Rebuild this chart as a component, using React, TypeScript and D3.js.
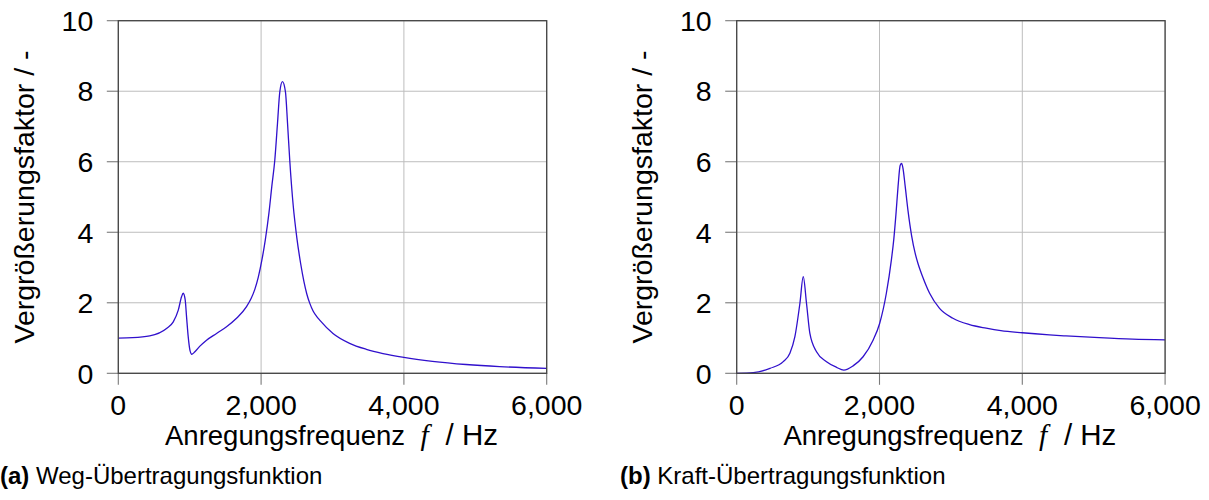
import React from "react";
import * as d3 from "d3";

// ---- data ----
const FREQ_A = [0, 200, 440, 680, 770, 840, 886, 909, 937, 956, 979, 1003, 1030, 1073, 1143, 1236, 1376, 1516, 1656, 1796, 1860, 1912, 1960, 2010, 2060, 2110, 2150, 2192, 2230, 2262, 2299, 2341, 2370, 2401, 2450, 2500, 2555, 2600, 2640, 2681, 2730, 2780, 2821, 3007, 3240, 3474, 3707, 4000, 4400, 4870, 5340, 6000];
const VAL_A = [1.0, 1.01, 1.06, 1.28, 1.46, 1.79, 2.17, 2.27, 2.08, 1.6, 1.04, 0.66, 0.54, 0.61, 0.77, 0.94, 1.13, 1.32, 1.56, 1.89, 2.12, 2.38, 2.72, 3.2, 3.8, 4.55, 5.3, 6.05, 7.1, 7.98, 8.27, 7.98, 7.1, 6.05, 4.75, 3.85, 3.1, 2.6, 2.25, 1.99, 1.76, 1.61, 1.51, 1.13, 0.85, 0.68, 0.56, 0.45, 0.34, 0.25, 0.19, 0.14];

const FREQ_B = [0, 233, 466, 652, 745, 815, 885, 932, 978, 1025, 1118, 1258, 1398, 1500, 1630, 1770, 1910, 2003, 2096, 2166, 2200, 2230, 2260, 2290, 2310, 2330, 2360, 2400, 2450, 2500, 2538, 2562, 2600, 2702, 2841, 3028, 3261, 3494, 3700, 4000, 4379, 4612, 5078, 5544, 6000];
const VAL_B = [0, 0.02, 0.14, 0.33, 0.57, 1.04, 1.98, 2.74, 1.98, 1.13, 0.61, 0.33, 0.17, 0.09, 0.21, 0.47, 0.94, 1.42, 2.27, 3.21, 3.8, 4.5, 5.3, 5.9, 5.95, 5.8, 5.3, 4.6, 3.9, 3.4, 3.12, 2.97, 2.76, 2.27, 1.84, 1.56, 1.38, 1.28, 1.21, 1.15, 1.09, 1.06, 1.01, 0.97, 0.95];

const X_TICKS = [0, 2000, 4000, 6000];
const Y_TICKS = [0, 2, 4, 6, 8, 10];
const X_LABEL = "Anregungsfrequenz";
const X_SYMBOL = "f";
const X_UNIT = "/ Hz";
const Y_LABEL = "Vergrößerungsfaktor / -";
const CAPTION_A = ["(a)", " Weg-Übertragungsfunktion"];
const CAPTION_B = ["(b)", " Kraft-Übertragungsfunktion"];

const FONT = "'Liberation Sans', Arial, Helvetica, sans-serif";
const FS = 28.5;
const FS_TITLE = 27.5;

type PanelProps = { left: number; freq: number[]; vals: number[]; caption: string[]; capX: number };

function Panel({ left, freq, vals, caption, capX }: PanelProps) {
  const width = 428.4;
  const top = 20.7;
  const bottom = 373.3;
  const x = d3.scaleLinear().domain([0, 6000]).range([left, left + width]);
  const y = d3.scaleLinear().domain([0, 10]).range([bottom, top]);
  const pts: [number, number][] = freq.map((f, i) => [f, vals[i]]);
  const line = d3
    .line<[number, number]>()
    .x((d) => x(d[0]))
    .y((d) => y(d[1]))
    .curve(d3.curveMonotoneX);
  const fmt = d3.format(",");
  const cx = left + width / 2;
  const cy = (top + bottom) / 2;
  return (
    <g>
      {/* grid */}
      {X_TICKS.map((t) => (
        <line key={"gx" + t} x1={x(t)} x2={x(t)} y1={top} y2={bottom} stroke="#bdbdbd" strokeWidth={1} />
      ))}
      {Y_TICKS.map((t) => (
        <line key={"gy" + t} x1={left} x2={left + width} y1={y(t)} y2={y(t)} stroke="#bdbdbd" strokeWidth={1} />
      ))}
      {/* outward ticks */}
      {X_TICKS.map((t) => (
        <line key={"tx" + t} x1={x(t)} x2={x(t)} y1={bottom} y2={bottom + 11.5} stroke="#7a7a7a" strokeWidth={1.1} />
      ))}
      {Y_TICKS.map((t) => (
        <line key={"ty" + t} x1={left - 11.5} x2={left} y1={y(t)} y2={y(t)} stroke="#7a7a7a" strokeWidth={1.1} />
      ))}
      {/* curve */}
      <path d={line(pts) || ""} fill="none" stroke="#3010cc" strokeWidth={1.3} />
      {/* frame */}
      <rect x={left} y={top} width={width} height={bottom - top} fill="none" stroke="#444" strokeWidth={1.3} />
      {/* tick labels */}
      {X_TICKS.map((t) => (
        <text key={"lx" + t} x={x(t)} y={415} textAnchor="middle" fontFamily={FONT} fontSize={FS} fill="#000">
          {fmt(t)}
        </text>
      ))}
      {Y_TICKS.map((t) => (
        <text key={"ly" + t} x={left - 25} y={y(t)} dy="0.36em" textAnchor="end" fontFamily={FONT} fontSize={FS} fill="#000">
          {t}
        </text>
      ))}
      {/* axis title */}
      <text y={445} fontFamily={FONT} fontSize={FS_TITLE} fill="#000">
        <tspan x={cx - 167.5}>{X_LABEL}</tspan>
        <tspan x={cx + 88} fontFamily="'Liberation Serif', 'DejaVu Serif', serif" fontStyle="italic" fontSize={FS_TITLE + 2}>
          {X_SYMBOL}
        </tspan>
        <tspan x={cx + 113} fontSize={FS + 1}>{X_UNIT}</tspan>
      </text>
      <text
        transform={`translate(${left - 84.8},${cy}) rotate(-90)`}
        textAnchor="middle"
        fontFamily={FONT}
        fontSize={FS}
        fill="#000"
      >
        {Y_LABEL}
      </text>
      {/* caption */}
      <text x={capX} y={483.5} fontFamily={FONT} fontSize={24} fill="#000">
        <tspan fontWeight="bold">{caption[0]}</tspan>
        {caption[1]}
      </text>
    </g>
  );
}

export default function App() {
  return (
    <svg
      width={1209}
      height={500}
      style={{ position: "absolute", left: 0, top: 0, background: "#fff" }}
    >
      <rect x={0} y={0} width={1209} height={500} fill="#fff" />
      <Panel left={118.3} freq={FREQ_A} vals={VAL_A} caption={CAPTION_A} capX={0} />
      <Panel left={736.7} freq={FREQ_B} vals={VAL_B} caption={CAPTION_B} capX={620} />
    </svg>
  );
}
